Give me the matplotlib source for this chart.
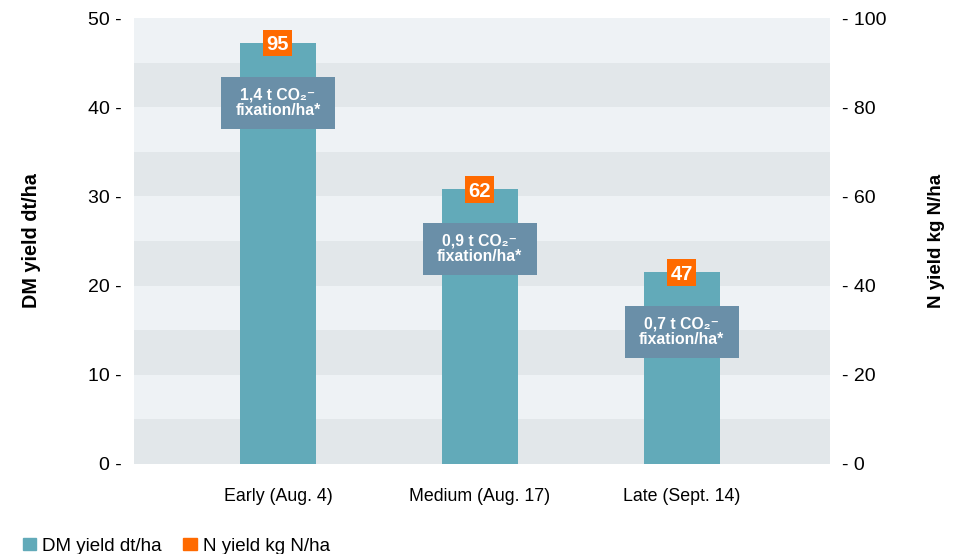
import matplotlib.pyplot as plt
import matplotlib.patches as mpatches
import numpy as np

plt.rcParams['font.family'] = ['Liberation Sans', 'DejaVu Sans']

# data
categories = ['Early (Aug. 4)', 'Medium (Aug. 17)', 'Late (Sept. 14)']
dm_yield = [47.2, 30.8, 21.5]          # dt/ha
n_yield = [95, 62, 47]                 # kg N/ha
co2_labels = ['1,4 t CO\u2082\u207b\nfixation/ha*',
              '0,9 t CO\u2082\u207b\nfixation/ha*',
              '0,7 t CO\u2082\u207b\nfixation/ha*']
left_ticks = [0, 10, 20, 30, 40, 50]
right_ticks = [0, 20, 40, 60, 80, 100]

bar_color = '#62AAB9'
box_color = '#6A8FA8'
orange = '#FF6A00'
band_light = '#EEF2F5'
band_dark = '#E2E7EA'

fig = plt.figure(figsize=(9.57, 5.54), dpi=100)
ax = fig.add_axes([0.140, 0.1625, 0.727, 0.805])

x = np.arange(len(categories))
ax.set_xlim(-0.713, 2.733)
ax.set_ylim(0, 50)

# alternating bands every 5 units
for i, lo in enumerate(range(45, -5, -5)):
    ax.axhspan(lo, lo + 5, color=band_light if i % 2 == 0 else band_dark, lw=0, zorder=0)

ax.bar(x, dm_yield, width=0.376, color=bar_color, zorder=2)

for xi, h, n, lab in zip(x, dm_yield, n_yield, co2_labels):
    # CO2 box
    bw, bh = 0.564, 5.83
    cy = h - 6.7
    ax.add_patch(mpatches.Rectangle((xi - bw / 2, cy - bh / 2), bw, bh,
                                    facecolor=box_color, edgecolor='none', zorder=3))
    ax.text(xi, cy, lab, ha='center', va='center', color='white', fontsize=11.3,
            fontweight='bold', linespacing=1.05, zorder=4)
    # N yield label box
    ow, oh = 0.144, 3.0
    ax.add_patch(mpatches.Rectangle((xi - ow / 2, h - oh / 2), ow, oh,
                                    facecolor=orange, edgecolor='none', zorder=3))
    ax.text(xi, h, str(n), ha='center', va='center_baseline', color='white',
            fontsize=14.5, fontweight='bold', zorder=4)

for s in ax.spines.values():
    s.set_visible(False)

ax.set_xticks(x)
ax.set_xticklabels(categories, fontsize=12.8)
ax.tick_params(axis='x', length=0, pad=17)
ax.set_yticks(left_ticks)
ax.set_yticklabels([f'{v} -' for v in left_ticks], fontsize=14)
ax.tick_params(axis='y', length=0, pad=9)
ax.set_ylabel('DM yield dt/ha', fontsize=14.3, fontweight='bold', labelpad=34)

ax2 = ax.twinx()
ax2.set_ylim(0, 100)
ax2.set_yticks(right_ticks)
ax2.set_yticklabels([f'- {v}' for v in right_ticks], fontsize=14)
ax2.tick_params(axis='y', length=0, pad=9)
for s in ax2.spines.values():
    s.set_visible(False)
ax2.set_ylabel('N yield kg N/ha', fontsize=13.5, fontweight='bold', labelpad=30,
               rotation=90)

handles = [mpatches.Patch(color=bar_color, label='DM yield dt/ha'),
           mpatches.Patch(color=orange, label='N yield kg N/ha')]
fig.legend(handles=handles, loc='lower left', bbox_to_anchor=(0.006, -0.032),
           ncol=2, frameon=False, fontsize=13.5, handlelength=0.7, handleheight=0.6,
           handletextpad=0.35, columnspacing=1.15)

fig.savefig('out.png', dpi=100)
